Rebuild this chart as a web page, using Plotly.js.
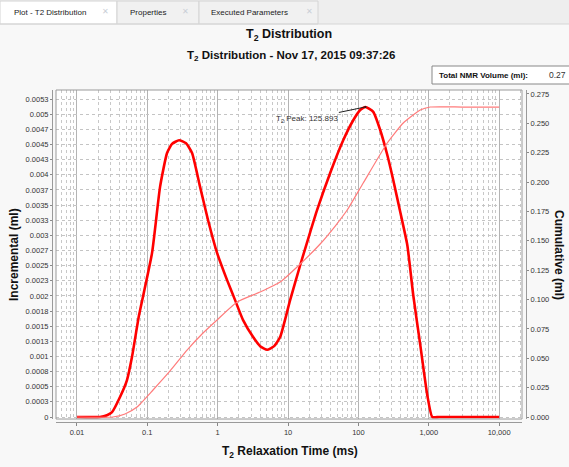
<!DOCTYPE html>
<html><head><meta charset="utf-8">
<script src="https://cdn.plot.ly/plotly-3.0.1.min.js"></script>
<style>html,body{margin:0;padding:0;background:#f8f8f8;}#chart{width:569px;height:467px;}</style>
</head><body><div id="chart"></div>
<script>
// ---- data ----
const t2Incremental = [0.01, 0.0212, 0.0267, 0.0315, 0.0409, 0.0514, 0.0605, 0.0714, 0.0762, 0.1167, 0.1517, 0.1906, 0.2246, 0.2825, 0.3551, 0.4323, 0.562, 0.73, 0.98, 1.36, 1.767, 2.296, 3.19, 4.01, 5.05, 6.34, 7.72, 10.7, 14.9, 20.6, 25.9, 39.7, 60.8, 84.4, 106, 125.9, 162.6, 204, 257, 313, 394, 495, 602, 757, 953, 1122, 1400, 3000, 10000];
const incremental = [0, 0, 0.00003, 0.00008, 0.00033, 0.00061, 0.00099, 0.00149, 0.00168, 0.00271, 0.0038, 0.00436, 0.00451, 0.00457, 0.00452, 0.00436, 0.0038, 0.00325, 0.00271, 0.00226, 0.00193, 0.0016, 0.00132, 0.00117, 0.00111, 0.00117, 0.00132, 0.00193, 0.00251, 0.00305, 0.00342, 0.00403, 0.00457, 0.0049, 0.00507, 0.00512, 0.00504, 0.00474, 0.00433, 0.00391, 0.00338, 0.00284, 0.00201, 0.00119, 0.00036, 0, 0, 0, 0];
const t2Cumulative = [0.01, 0.0325, 0.0482, 0.0714, 0.1205, 0.2104, 0.367, 0.619, 0.98, 1.888, 4.01, 7.72, 14.9, 28.6, 46.8, 69.3, 117, 257, 434, 757, 1050, 3000, 10000];
const cumulative = [0, 0, 0.0026, 0.0085, 0.023, 0.0392, 0.057, 0.0715, 0.0826, 0.0979, 0.1064, 0.1149, 0.1303, 0.1473, 0.1626, 0.1762, 0.1992, 0.2333, 0.2503, 0.2614, 0.2639, 0.2639, 0.2639];
const peakT2 = 125.893;
const peakIncremental = 0.00512;
const totalVolume = '0.27';
const xTickVals = [0.01, 0.1, 1, 10, 100, 1000, 10000];
const xTickText = ['0.01', '0.1', '1', '10', '100', '1,000', '10,000'];
const yTickVals = [0, 0.00025, 0.0005, 0.00075, 0.001, 0.00125, 0.0015, 0.00175, 0.002, 0.00225, 0.0025, 0.00275, 0.003, 0.00325, 0.0035, 0.00375, 0.004, 0.00425, 0.0045, 0.00475, 0.005, 0.00525];
const yTickText = ['0', '0.0003', '0.0005', '0.0008', '0.001', '0.0013', '0.0015', '0.0018', '0.002', '0.0023', '0.0025', '0.0027', '0.003', '0.0033', '0.0035', '0.0037', '0.004', '0.0043', '0.0045', '0.0047', '0.005', '0.0053'];
const tabs = ['Plot - T2 Distribution', 'Properties', 'Executed Parameters'];

// ---- layout helpers (pixel -> paper) ----
const W = 569, H = 467;
const px = x => x / W, py = y => 1 - y / H;
const FONT = 'Liberation Sans, Arial, sans-serif';
const plotL = 56, plotR = 522, plotT = 90, plotB = 419;

const traces = [
  {x: t2Cumulative, y: cumulative, yaxis: 'y2', type: 'scatter', mode: 'lines',
   line: {color: '#ff7b7b', width: 1.2, shape: 'spline', smoothing: 0.5}, hoverinfo: 'skip'},
  {x: t2Incremental, y: incremental, type: 'scatter', mode: 'lines',
   line: {color: '#ff0000', width: 2.6, shape: 'spline', smoothing: 0.5}, hoverinfo: 'skip'}
];

function label(x, y, text, size, opts) {
  return Object.assign({xref: 'paper', yref: 'paper', x: px(x), y: py(y), text: text, showarrow: false,
    xanchor: 'center', yanchor: 'middle', font: {family: FONT, size: size, color: '#111'}}, opts || {});
}
const annotations = [
  label(289, 35, '<b>T<sub>2</sub> Distribution</b>', 12.5),
  label(291, 56, '<b>T<sub>2</sub> Distribution - Nov 17, 2015 09:37:26</b>', 11.5),
  label(290, 452, '<b>T<sub>2</sub> Relaxation Time (ms)</b>', 12),
  label(14, 255, '<b>Incremental (ml)</b>', 12, {textangle: -90}),
  label(559, 255, '<b>Cumulative (ml)</b>', 12, {textangle: 90}),
  label(437, 75, '<b>Total NMR Volume (ml):</b>', 8, {xanchor: 'left'}),
  label(547, 75, totalVolume, 8.5, {xanchor: 'left', font: {family: FONT, size: 8.5, color: '#333'}}),
  {x: Math.log10(peakT2), y: peakIncremental, xref: 'x', yref: 'y', text: 'T<sub>2</sub> Peak: 125.893', showarrow: true,
   ax: -58, ay: 12, arrowhead: 6, arrowsize: 0.5, arrowwidth: 1, arrowcolor: '#222', standoff: 0,
   font: {family: FONT, size: 8, color: '#333'}}
];
// tabs
const tabX = [[0, 117], [117, 199], [199, 318]];
const tabTextX = [12, 128, 209];
const tabIconX = [105, 186, 309];
tabs.forEach((t, i) => {
  annotations.push(label(tabTextX[i], 13, t, 8, {xanchor: 'left', font: {family: FONT, size: 8, color: '#222'}}));
  annotations.push(label(tabIconX[i], 12, '✕', 8, {font: {family: 'DejaVu Sans', size: 8, color: '#c9ced6'}}));
});

const shapes = [
  {type: 'rect', xref: 'paper', yref: 'paper', x0: 0, x1: 1, y0: py(24), y1: 1, fillcolor: '#eeeeee', line: {width: 0}, layer: 'below'},
  {type: 'line', xref: 'paper', yref: 'paper', x0: 0, x1: 1, y0: py(24), y1: py(24), line: {color: '#d6d6d6', width: 1}},
];
tabX.forEach((r, i) => {
  shapes.push({type: 'rect', xref: 'paper', yref: 'paper', x0: px(r[0]), x1: px(r[1]), y0: py(24), y1: py(1),
    fillcolor: i === 0 ? '#ffffff' : '#f1f1f1', line: {color: '#d4d4d4', width: 1}, layer: 'below'});
});
shapes.push(
  {type: 'rect', xref: 'paper', yref: 'paper', x0: px(432), x1: px(572), y0: py(84), y1: py(66), fillcolor: '#ffffff', line: {color: '#888', width: 1}, layer: 'below'},
  {type: 'rect', xref: 'paper', yref: 'paper', x0: px(plotL), x1: px(plotR), y0: py(plotB), y1: py(plotT), line: {color: '#9a9a9a', width: 1}, fillcolor: 'rgba(0,0,0,0)'}
);

const tickFont = {family: FONT, size: 7.5, color: '#333'};
const layout = {
  width: W, height: H,
  margin: {l: 0, r: 0, t: 0, b: 0},
  paper_bgcolor: '#f8f8f8', plot_bgcolor: '#ffffff',
  showlegend: false,
  xaxis: {type: 'log', domain: [px(plotL), px(plotR)], range: [-2.298, 4.325],
    anchor: 'free', position: py(422), automargin: false,
    tickvals: xTickVals, ticktext: xTickText, tickfont: tickFont,
    ticks: 'outside', ticklen: 3, tickcolor: '#888',
    showline: true, linecolor: '#9a9a9a', linewidth: 1,
    showgrid: true, gridcolor: '#b4b4b4', gridwidth: 1,
    minor: {dtick: 'D1', showgrid: true, gridcolor: '#c8c8c8', griddash: 'dot', ticks: ''},
    zeroline: false, fixedrange: true},
  yaxis: {domain: [py(plotB), py(plotT)], range: [-0.000033, 0.0054],
    anchor: 'free', position: px(52), automargin: false,
    tickvals: yTickVals, ticktext: yTickText, tickfont: tickFont,
    ticks: 'outside', ticklen: 2, tickcolor: '#888',
    showline: true, linecolor: '#9a9a9a', linewidth: 1,
    showgrid: true, gridcolor: '#c4c4c4', griddash: 'dot', zeroline: false, fixedrange: true},
  yaxis2: {overlaying: 'y', side: 'right', range: [-0.0017, 0.2784],
    anchor: 'free', position: px(526), automargin: false,
    dtick: 0.025, tick0: 0, tickformat: '.3f', tickfont: tickFont,
    ticks: 'outside', ticklen: 2, tickcolor: '#888',
    showline: true, linecolor: '#9a9a9a', linewidth: 1,
    showgrid: false, zeroline: false, fixedrange: true},
  annotations: annotations,
  shapes: shapes
};

Plotly.newPlot('chart', traces, layout, {staticPlot: true, displayModeBar: false});
</script></body></html>
